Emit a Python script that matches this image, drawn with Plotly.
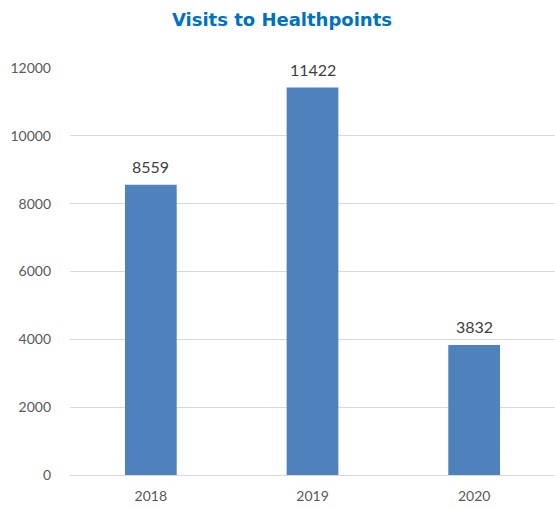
import plotly.graph_objects as go

years = ["2018", "2019", "2020"]
visits = [8559, 11422, 3832]
y_ticks = [0, 2000, 4000, 6000, 8000, 10000, 12000]

fig = go.Figure()
fig.add_trace(go.Bar(
    x=years, y=visits,
    marker=dict(color="#4F81BD", line=dict(width=0)),
    width=0.32,
))
for i, v in enumerate(visits):
    fig.add_annotation(x=i, y=v, text=str(v), showarrow=False, yanchor="bottom", yshift=7,
                       font=dict(family="Lato, sans-serif", size=16, color="#404040"))
fig.update_layout(
    width=555, height=509,
    margin=dict(l=70, r=0, t=68, b=34),
    paper_bgcolor="white", plot_bgcolor="white",
    title=dict(text="<b>Visits to Healthpoints</b>", x=0.508, xanchor="center", y=0.961, yanchor="middle",
               font=dict(family="DejaVu Sans, sans-serif", size=18, color="#0070C0")),
    showlegend=False,
    font=dict(family="Lato, sans-serif", size=14, color="#595959"),
)
fig.update_yaxes(range=[0, 12000], tickvals=y_ticks, ticktext=[str(t) for t in y_ticks],
                 showgrid=True, gridcolor="#D9D9D9", gridwidth=1, zeroline=False,
                 showline=False, ticks="", ticklabelstandoff=18,
                 tickfont=dict(family="Lato, sans-serif", size=14, color="#595959"))
fig.update_xaxes(type="category", showline=True, linecolor="#D9D9D9", linewidth=1, ticks="", ticklabelstandoff=8,
                 tickfont=dict(family="Lato, sans-serif", size=14, color="#595959"))
fig.write_html("out.html")
